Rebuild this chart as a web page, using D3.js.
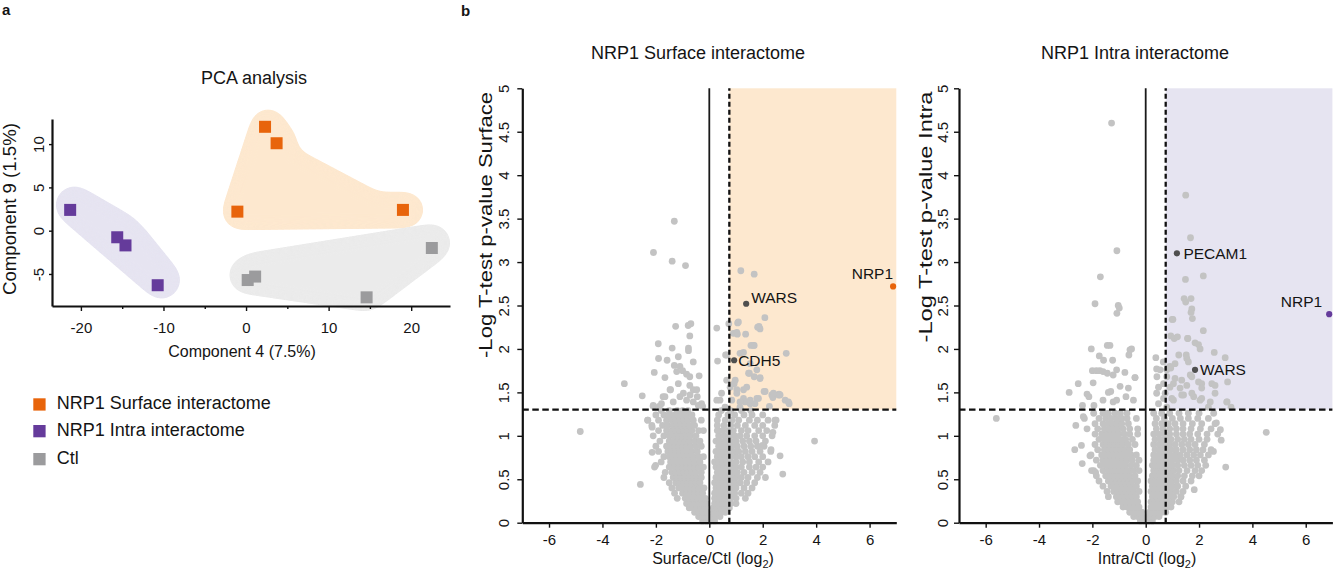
<!DOCTYPE html>
<html><head><meta charset="utf-8">
<script src="https://cdn.jsdelivr.net/npm/d3@7"></script>
<style>
body{margin:0;background:#fff}
svg{display:block}
text{font-family:"Liberation Sans",Arial,sans-serif;fill:#141414}
</style>
</head><body>
<svg id="c" width="1334" height="570"></svg>
<script>
// ---------------- DATA ----------------
const pcaGroups = ["NRP1 Surface interactome", "NRP1 Intra interactome", "Ctl"];
const pcaSurface = [[2.3,12.0],[3.7,10.1],[-1.05,2.2],[19.0,2.4]];
const pcaIntra   = [[-21.3,2.4],[-15.6,-0.76],[-14.6,-1.7],[-10.7,-6.3]];
const pcaCtl     = [[22.5,-2.0],[0.2,-5.7],[1.1,-5.3],[14.6,-7.7]];
const pcaBlobParts = [[[0,1,2],[2,3],[1,2,3]], [[0,1,2,3]], [[0,1,2,3]]];
const pcaXTicks = [-20,-10,0,10,20];
const pcaXMinor = [-15,-5,5,15];
const pcaYTicks = [-5,0,5,10];

const volXTicks = [-6,-4,-2,0,2,4,6];
const volYTicks = [0,0.5,1,1.5,2,2.5,3,3.5,4,4.5,5];
const fcCut = 0.75;
const pCut = 1.301;

// dense core, rows: [y, x1, x2, ...]
const surfaceCore = [
 [0.02,-0.25,-0.1,0.05,0.2],
 [0.07,-0.4,-0.25,-0.1,0.1,0.25,0.4],
 [0.12,-0.55,-0.4,-0.25,-0.1,0.15,0.3,0.45,0.6],
 [0.17,-0.75,-0.6,-0.45,-0.3,-0.15,0.15,0.3,0.45,0.6,0.75],
 [0.22,-0.85,-0.7,-0.55,-0.4,-0.25,-0.1,0.2,0.35,0.5,0.65,0.8,1.0],
 [0.28,-1.2,-0.9,-0.75,-0.6,-0.45,-0.3,-0.15,0.2,0.35,0.5,0.65,0.8,1.0,1.35],
 [0.34,-1.3,-1.0,-0.85,-0.7,-0.55,-0.4,-0.25,0.2,0.35,0.5,0.65,0.8,0.95,1.2,1.45],
 [0.40,-1.4,-1.15,-1.0,-0.85,-0.7,-0.55,-0.4,-0.2,0.25,0.4,0.55,0.7,0.85,1.0,1.3,1.6],
 [0.46,-1.5,-1.25,-1.1,-0.95,-0.8,-0.65,-0.5,-0.35,0.2,0.35,0.5,0.65,0.8,0.95,1.15,1.4,1.7],
 [0.52,-1.7,-1.35,-1.2,-1.05,-0.9,-0.75,-0.6,-0.45,-0.3,0.25,0.4,0.55,0.7,0.85,1.0,1.2,1.45,1.8,2.1],
 [0.58,-1.65,-1.4,-1.25,-1.1,-0.95,-0.8,-0.65,-0.5,-0.3,0.3,0.45,0.6,0.75,0.9,1.05,1.3,1.6,1.9],
 [0.64,-2.05,-1.5,-1.3,-1.15,-1.0,-0.85,-0.7,-0.55,-0.4,-0.22,0.25,0.4,0.55,0.7,0.85,1.0,1.2,1.5,1.75,2.0],
 [0.70,-1.8,-1.45,-1.3,-1.15,-1.0,-0.85,-0.7,-0.55,-0.35,0.2,0.35,0.5,0.65,0.8,1.0,1.25,1.5,1.85,2.2],
 [0.76,-1.7,-1.5,-1.35,-1.2,-1.05,-0.9,-0.75,-0.6,-0.4,-0.22,0.3,0.45,0.6,0.8,1.0,1.2,1.45,1.7,2.0],
 [0.82,-1.9,-1.55,-1.4,-1.25,-1.1,-0.95,-0.8,-0.65,-0.45,0.25,0.4,0.55,0.7,0.9,1.1,1.35,1.6,1.9,2.3],
 [0.88,-2.0,-1.6,-1.45,-1.3,-1.15,-1.0,-0.85,-0.7,-0.5,-0.3,0.35,0.5,0.65,0.85,1.05,1.3,1.55,1.8,2.05],
 [0.94,-1.85,-1.5,-1.35,-1.2,-1.05,-0.9,-0.75,-0.55,-0.35,0.25,0.4,0.6,0.8,1.0,1.25,1.5,1.75,2.1],
 [1.00,-2.1,-1.7,-1.5,-1.3,-1.15,-1.0,-0.85,-0.7,-0.5,0.35,0.55,0.75,0.95,1.15,1.4,1.7,2.0,2.35],
 [1.06,-1.9,-1.6,-1.4,-1.25,-1.1,-0.95,-0.8,-0.65,-0.4,-0.22,0.3,0.5,0.7,0.9,1.2,1.45,1.85,2.15],
 [1.12,-2.15,-1.75,-1.55,-1.35,-1.2,-1.05,-0.9,-0.75,-0.55,0.3,0.55,0.8,1.05,1.35,1.7,2.0,2.45],
 [1.18,-2.3,-1.9,-1.6,-1.4,-1.25,-1.1,-0.95,-0.8,-0.6,-0.3,0.3,0.6,0.85,1.1,1.5,1.8,2.2,2.5],
 [1.24,-2.0,-1.7,-1.5,-1.3,-1.15,-1.0,-0.85,-0.65,0.35,0.7,0.95,1.3,1.6,2.0],
 [1.29,-1.8,-1.5,-1.2,-1.0,-0.8,0.45,0.8,1.2,1.55]
];
const surfaceSparse = [
 [-1.31,3.47],[-2.09,3.11],[-1.39,3.01],[-0.89,2.96],[1.18,2.90],[1.68,2.86],
 [2.08,2.36],[-1.26,2.26],[-0.79,2.27],[-0.69,2.29],[-0.73,2.15],[0.28,2.24],[0.73,2.29],[1.06,2.30],[1.05,2.17],[1.81,2.25],[1.90,2.23],
 [-1.91,2.06],[-1.39,2.01],[-0.78,2.01],[-0.78,1.98],[-1.16,1.91],[-1.90,1.89],[-1.58,1.87],[-0.60,1.85],[-1.31,1.81],[-1.10,1.80],[-1.22,1.74],[-1.00,1.75],[-0.85,1.71],[-0.73,1.68],[-2.06,1.73],[-1.66,1.67],[-1.16,1.60],[-0.73,1.58],[-0.60,1.53],[-0.45,1.45],[-0.38,1.69],[-3.18,1.60],[-2.51,1.46],[-1.45,1.53],[-1.73,1.45],[-2.10,1.34],[-1.88,1.34],[-1.10,1.45],[-1.35,1.39],[-0.85,1.41],[-0.60,1.39],[-0.29,1.37],[0.28,1.41],[0.46,1.49],[0.65,1.64],[0.59,1.33],
 [-2.10,1.35],[-1.79,1.37],[-1.66,1.45],[-1.47,1.53],[-0.97,1.49],[-0.72,1.47],[-0.47,1.53],[-0.25,1.34],[-0.41,1.35],
 [0.31,1.86],[0.61,1.93],[1.28,1.96],[1.56,2.04],[1.68,2.04],[1.36,2.17],[0.90,2.18],[2.88,1.95],[1.50,1.72],[1.68,1.68],[1.90,1.67],[2.05,1.51],[2.38,1.44],[2.61,1.48],[2.84,1.41],[2.99,1.37],[2.25,1.34],[1.03,1.53],[0.93,1.60],[1.28,1.43],[1.53,1.41],[1.78,1.43],[0.84,1.41],[1.15,1.33],[1.40,1.56],[1.09,2.31],[1.86,2.26],[1.03,2.19],[1.65,2.04],[1.15,1.95],[0.65,1.93],[1.53,1.83],[1.78,1.76],[1.47,1.72],[1.90,1.66],[0.97,1.64],[2.34,1.47],[2.59,1.47],[1.28,1.53],
 [0.40,1.41],[0.78,1.56],[1.03,1.49],[1.34,1.39],[1.53,1.37],[1.84,1.43],[2.09,1.51],[2.40,1.49],[2.65,1.47],[2.96,1.39],[1.15,1.39],[1.71,1.37],
 [-4.83,1.05],[3.94,0.94],[-2.58,0.44],[-2.31,1.18],[-2.14,1.10],[-2.14,0.81],[-2.01,0.66],[2.46,1.18],[2.38,1.04],[2.31,0.84],[2.65,0.77],[2.75,0.56],[1.99,0.89]
];
const surfaceGenes = [
 {name:"NRP1", x:6.88, y:2.72, kind:"bait"},
 {name:"WARS", x:1.38, y:2.52, kind:"hit"},
 {name:"CDH5", x:0.93, y:1.87, kind:"hit"}
];

const intraCore = [
 [0.02,-0.2,-0.05,0.1,0.25],
 [0.07,-0.45,-0.3,-0.15,0.05,0.2,0.35,0.5],
 [0.12,-0.6,-0.45,-0.3,-0.15,0.15,0.3,0.45,0.6,0.75],
 [0.18,-0.85,-0.7,-0.55,-0.4,-0.25,0.2,0.35,0.5,0.65,0.8,0.95],
 [0.24,-1.05,-0.9,-0.75,-0.6,-0.45,-0.3,0.2,0.35,0.5,0.65,0.8,1.0,1.25],
 [0.30,-1.4,-1.1,-0.95,-0.8,-0.65,-0.5,-0.35,0.25,0.4,0.55,0.7,0.85,1.05,1.32],
 [0.36,-1.45,-1.2,-1.05,-0.9,-0.75,-0.6,-0.45,-0.25,0.2,0.35,0.5,0.65,0.8,0.95,1.15,1.4],
 [0.42,-1.6,-1.3,-1.15,-1.0,-0.85,-0.7,-0.55,-0.35,0.25,0.4,0.55,0.7,0.85,1.0,1.2,1.5],
 [0.48,-1.75,-1.4,-1.25,-1.1,-0.95,-0.8,-0.65,-0.5,-0.3,0.2,0.35,0.5,0.65,0.8,0.95,1.15,1.4,1.7],
 [0.54,-1.85,-1.5,-1.35,-1.2,-1.05,-0.9,-0.75,-0.6,-0.4,0.25,0.4,0.55,0.7,0.85,1.0,1.2,1.45,1.75,2.0],
 [0.60,-1.95,-1.6,-1.4,-1.25,-1.1,-0.95,-0.8,-0.65,-0.45,-0.25,0.3,0.45,0.6,0.75,0.9,1.05,1.25,1.55,1.85,2.1],
 [0.66,-1.7,-1.5,-1.35,-1.2,-1.05,-0.9,-0.75,-0.55,-0.35,0.25,0.4,0.55,0.7,0.85,1.0,1.2,1.45,1.7,1.95,2.25],
 [0.72,-1.85,-1.6,-1.45,-1.3,-1.15,-1.0,-0.85,-0.7,-0.5,-0.25,0.3,0.45,0.6,0.8,1.0,1.2,1.4,1.65,1.9,2.2],
 [0.78,-2.05,-1.65,-1.5,-1.35,-1.2,-1.05,-0.9,-0.75,-0.55,-0.35,0.3,0.5,0.7,0.9,1.1,1.3,1.55,1.8,2.05,2.35],
 [0.84,-1.8,-1.55,-1.4,-1.25,-1.1,-0.95,-0.8,-0.6,0.35,0.55,0.75,0.95,1.15,1.4,1.65,1.9,2.15,2.45],
 [0.90,-1.9,-1.6,-1.45,-1.3,-1.15,-1.0,-0.85,-0.65,-0.4,0.3,0.5,0.7,0.9,1.1,1.35,1.6,1.85,2.2],
 [0.96,-1.75,-1.55,-1.4,-1.25,-1.1,-0.95,-0.75,-0.5,0.35,0.55,0.75,0.95,1.2,1.45,1.7,2.0,2.3],
 [1.02,-1.9,-1.65,-1.45,-1.3,-1.15,-1.0,-0.8,-0.6,-0.3,0.3,0.5,0.7,0.9,1.15,1.4,1.65,1.95,2.3,2.7],
 [1.08,-2.2,-1.8,-1.55,-1.35,-1.2,-1.05,-0.85,-0.6,-0.3,0.4,0.65,0.9,1.15,1.4,1.7,2.05,2.45],
 [1.14,-1.9,-1.6,-1.4,-1.25,-1.1,-0.9,-0.65,0.35,0.6,0.85,1.1,1.4,1.75,2.1,2.6],
 [1.20,-2.3,-1.75,-1.5,-1.3,-1.1,-0.9,-0.7,-0.35,0.4,0.7,1.0,1.3,1.6,1.95,2.35],
 [1.26,-1.95,-1.6,-1.4,-1.15,-0.95,-0.7,0.3,0.6,0.9,1.25,1.6,2.0,2.55]
];
const intraSparse = [
 [-1.28,4.60],[1.50,3.77],[1.68,3.28],[-1.08,3.13],[-1.70,2.83],[1.49,2.80],[2.16,2.84],[-1.90,2.52],[-1.03,2.50],[-0.99,2.47],[-1.08,2.41],[1.44,2.58],[1.50,2.54],[1.70,2.58],[1.73,2.46],[1.70,2.42],[1.75,2.35],[1.02,2.34],[2.16,2.21],[0.94,2.15],[1.07,2.12],[1.58,2.12],
 [-2.04,2.00],[-1.44,2.04],[-1.34,2.04],[-0.59,1.99],[-1.74,1.92],[-1.58,1.87],[-1.24,1.87],[-0.63,1.93],[-2.00,1.75],[-1.85,1.75],[-1.72,1.75],[-1.60,1.74],[-1.44,1.72],[-1.22,1.70],[-1.09,1.76],[-0.78,1.73],[-0.40,1.67],[-1.97,1.61],[-2.87,1.50],[-2.53,1.60],[-2.20,1.48],[-2.13,1.45],[-1.40,1.50],[-1.31,1.51],[-0.96,1.57],[-0.65,1.55],[-1.60,1.41],[-1.22,1.39],[-1.09,1.41],[-0.46,1.41],[-0.74,1.45],[-2.37,1.35],[-1.94,1.35],[-0.53,2.00],[-0.40,1.67],
 [0.38,1.90],[0.41,1.77],[0.79,1.76],[0.94,1.78],[1.24,1.93],[1.54,1.89],[1.52,1.93],[2.57,1.96],[2.98,1.90],[3.07,1.62],[2.48,1.60],[2.10,1.60],[2.10,1.55],[2.60,1.49],[3.05,1.39],[3.20,1.33],[1.19,2.14],[0.99,2.34],[1.57,2.12],[1.85,2.07],[2.04,2.00],
 [0.42,1.68],[0.67,1.60],[0.91,1.56],[1.10,1.66],[1.35,1.64],[1.54,1.58],[1.73,1.68],[1.42,1.47],[1.80,1.45],[2.10,1.43],[2.35,1.33],[1.04,1.41],[0.67,1.43],[0.79,1.33],[0.41,1.49],[0.48,1.37],
 [1.98,2.05],[1.60,1.85],[0.66,1.85],[0.91,1.80],[1.10,1.83],[1.67,1.70],[1.98,1.62],[2.60,1.58],[0.54,1.76],[0.79,1.68],[1.04,1.60],[1.29,1.55],[0.48,1.56],[0.73,1.49],[0.98,1.43],[1.35,1.47],[1.73,1.49],[2.04,1.41],[2.42,1.39],[3.04,1.39],
 [4.52,1.04],[-5.60,1.20],[-2.66,0.84],[-2.38,0.68],[-2.41,0.89],[-2.09,0.77],[-2.62,1.12],[-2.34,1.22],[-2.03,0.60],[-1.88,0.58],[2.83,0.95],[2.80,1.07],[2.65,1.15],[2.54,0.82],[3.00,0.64],[1.82,0.38],[1.32,0.30]
];
const intraGenes = [
 {name:"NRP1", x:6.88, y:2.40, kind:"bait"},
 {name:"PECAM1", x:1.17, y:3.10, kind:"hit"},
 {name:"WARS", x:1.85, y:1.76, kind:"hit"}
];

// ---------------- DRAW ----------------
const svg = d3.select("#c");
const FONT = '"Liberation Sans", Arial, sans-serif';
const defs = svg.append("defs");
const f = defs.append("filter").attr("id","goo").attr("x","-40%").attr("y","-40%")
  .attr("width","180%").attr("height","180%").attr("color-interpolation-filters","sRGB");
f.append("feGaussianBlur").attr("in","SourceGraphic").attr("stdDeviation",7).attr("result","b");
f.append("feColorMatrix").attr("in","b").attr("mode","matrix")
  .attr("values","1 0 0 0 0  0 1 0 0 0  0 0 1 0 0  0 0 0 20 -9");

// panel letters
svg.append("text").attr("x",2).attr("y",15).attr("font-weight","bold").attr("font-size",15).text("a");
svg.append("text").attr("x",461).attr("y",16).attr("font-weight","bold").attr("font-size",15).text("b");

// ----- PCA -----
const pcaSets = [pcaSurface, pcaIntra, pcaCtl];
const pcaColors = ["#e8640b","#653b9b","#9b9b9d"];
const pcaFills = ["#fde8cf","#e6e4f1","#ebebeb"];
const blobStyle = [{pads:[18,18,3],dx:3,dy:0},{pads:[19],dx:4,dy:-5},{pads:[19],dx:0,dy:-5}];
const px = d3.scaleLinear().domain([-23.5,24.7]).range([52,450]);
const py = d3.scaleLinear().domain([-8.7,12.9]).range([306,119]);
const pca = svg.append("g");

pcaSets.forEach((set,gi)=>{
  const st = blobStyle[gi];
  const bg = pca.append("g").attr("filter","url(#goo)");
  pcaBlobParts[gi].forEach((idx,pi)=>{
    const P = idx.map(i=>[px(set[i][0])+st.dx, py(set[i][1])+st.dy]);
    const poly = P.length>=3 ? d3.polygonHull(P) : P;
    bg.append("path").attr("d", d3.line()(poly) + (P.length>=3?"Z":""))
      .attr("fill",pcaFills[gi]).attr("stroke",pcaFills[gi]).attr("stroke-width",2*st.pads[pi])
      .attr("stroke-linejoin","round").attr("stroke-linecap","round");
  });
});
pcaSets.forEach((set,gi)=>{
  pca.append("g").selectAll("rect").data(set).join("rect")
    .attr("x",d=>px(d[0])-6).attr("y",d=>py(d[1])-6).attr("width",12).attr("height",12)
    .attr("fill",pcaColors[gi]);
});
// axes
const pxa = pca.append("g").attr("transform",`translate(0,306)`)
  .call(d3.axisBottom(px).tickValues(pcaXTicks).tickSize(5).tickSizeOuter(0).tickFormat(d=>String(d)));
pxa.attr("font-family",FONT).attr("font-size",15);
pxa.select(".domain").attr("stroke","#111").attr("stroke-width",2.2);
pxa.selectAll(".tick line").attr("stroke","#111").attr("stroke-width",1.4);
pxa.selectAll(".tick text").attr("y",27).attr("dy",null);
const pxm = pca.append("g").attr("transform",`translate(0,306)`)
  .call(d3.axisBottom(px).tickValues(pcaXMinor).tickSize(3).tickFormat(""));
pxm.select(".domain").remove();
pxm.selectAll(".tick line").attr("stroke","#111").attr("stroke-width",1.4);

const pya = pca.append("g").attr("transform",`translate(52,0)`)
  .call(d3.axisLeft(py).tickValues(pcaYTicks).tickSize(3).tickSizeOuter(0).tickFormat(d=>String(d)));
pya.attr("font-family",FONT).attr("font-size",15);
pya.select(".domain").attr("stroke","#111").attr("stroke-width",2.2);
pya.selectAll(".tick line").attr("stroke","#111").attr("stroke-width",1.4);
pya.selectAll(".tick text").attr("transform","rotate(-90)").attr("x",0).attr("y",-8.5)
  .attr("dy",null).attr("text-anchor","middle");

pca.append("text").attr("x",254).attr("y",84).attr("text-anchor","middle").attr("font-size",18).text("PCA analysis");
pca.append("text").attr("x",242).attr("y",357).attr("text-anchor","middle").attr("font-size",16).text("Component 4 (7.5%)");
pca.append("text").attr("transform","translate(15.5,209) rotate(-90)").attr("text-anchor","middle")
  .attr("font-size",18).attr("textLength",172).attr("lengthAdjust","spacingAndGlyphs").text("Component 9 (1.5%)");

// legend
const legRows = [409.3, 436, 464];
pcaGroups.forEach((name,i)=>{
  svg.append("rect").attr("x",33.3).attr("y",legRows[i]-11).attr("width",12.3).attr("height",12.3).attr("fill",pcaColors[i]);
  svg.append("text").attr("x",56.7).attr("y",legRows[i]).attr("font-size",18).text(name);
});

// ----- Volcano -----
function volcano(cfg){
  const x = d3.scaleLinear().domain([-7,7]).range(cfg.xr);
  const y = d3.scaleLinear().domain([0,5]).range([522.7,88.3]);
  const g = svg.append("g");
  g.append("rect").attr("x",x(fcCut)).attr("y",y(5)).attr("width",x(7)-x(fcCut))
    .attr("height",y(pCut)-y(5)).attr("fill",cfg.shade);
  const pts = [];
  cfg.core.forEach(r=>{ for(let i=1;i<r.length;i++) pts.push([r[i],r[0]]); });
  cfg.sparse.forEach(p=>pts.push(p));
  g.append("g").selectAll("circle").data(pts).join("circle")
    .attr("cx",d=>x(d[0])).attr("cy",d=>y(d[1])).attr("r",3.4).attr("fill","#c3c3c3");
  // reference lines
  g.append("line").attr("x1",x(0)).attr("x2",x(0)).attr("y1",y(0)).attr("y2",y(5))
    .attr("stroke","#1a1a1a").attr("stroke-width",1.8);
  g.append("line").attr("x1",x(fcCut)).attr("x2",x(fcCut)).attr("y1",y(0)).attr("y2",y(5))
    .attr("stroke","#111").attr("stroke-width",2.3).attr("stroke-dasharray","5,3");
  g.append("line").attr("x1",x(-7)).attr("x2",x(7)).attr("y1",y(pCut)).attr("y2",y(pCut))
    .attr("stroke","#111").attr("stroke-width",2.3).attr("stroke-dasharray","6.5,3.5");
  // genes
  cfg.genes.forEach(gn=>{
    const cx = x(gn.x), cy = y(gn.y);
    g.append("circle").attr("cx",cx).attr("cy",cy).attr("r",3.1)
      .attr("fill", gn.kind==="bait" ? cfg.bait : "#4f4f4f");
    const L = cfg.labels[gn.name];
    g.append("text").attr("x",cx+L.dx).attr("y",cy+L.dy).attr("text-anchor",L.anchor)
      .attr("font-size",15.5).text(gn.name);
  });
  // axes
  const xa = g.append("g").attr("transform",`translate(0,${y(0)})`)
    .call(d3.axisBottom(x).tickValues(volXTicks).tickSize(5).tickSizeOuter(0).tickFormat(d=>String(d)));
  xa.attr("font-family",FONT).attr("font-size",15);
  xa.select(".domain").attr("stroke","#111").attr("stroke-width",2.2);
  xa.selectAll(".tick line").attr("stroke","#111").attr("stroke-width",1.4);
  xa.selectAll(".tick text").attr("y",22).attr("dy",null);
  const ya = g.append("g").attr("transform",`translate(${x(-7)},0)`)
    .call(d3.axisLeft(y).tickValues(volYTicks).tickSize(5).tickSizeOuter(0).tickFormat(d=>String(d)));
  ya.attr("font-family",FONT).attr("font-size",15);
  ya.select(".domain").attr("stroke","#111").attr("stroke-width",2.2);
  ya.selectAll(".tick line").attr("stroke","#111").attr("stroke-width",1.4);
  ya.selectAll(".tick text").attr("transform","rotate(-90)").attr("x",0).attr("y",cfg.tickOff)
    .attr("dy",null).attr("text-anchor","middle");
  // titles
  g.append("text").attr("x",cfg.titleX).attr("y",59).attr("text-anchor","middle").attr("font-size",18).text(cfg.title);
  const xl = g.append("text").attr("x",cfg.xlabX).attr("y",564).attr("text-anchor","middle").attr("font-size",16);
  xl.append("tspan").text(cfg.xlab + " (log");
  xl.append("tspan").attr("dy",4).attr("font-size",11).text("2");
  xl.append("tspan").attr("dy",-4).text(")");
  g.append("text").attr("transform",`translate(${cfg.ylabX},${cfg.ylabY}) rotate(-90)`)
    .attr("text-anchor","middle").attr("font-size",19)
    .attr("textLength",cfg.ylabLen).attr("lengthAdjust","spacingAndGlyphs").text(cfg.ylab);
}

volcano({
  xr:[522.3,896.3], shade:"#fde8cf", bait:"#e8640b",
  core:surfaceCore, sparse:surfaceSparse, genes:surfaceGenes,
  labels:{NRP1:{dx:0,dy:-7.5,anchor:"end"}, WARS:{dx:5,dy:-1,anchor:"start"}, CDH5:{dx:4,dy:5.7,anchor:"start"}},
  tickOff:-13.5, title:"NRP1 Surface interactome", titleX:698,
  xlab:"Surface/Ctl", xlabX:713, ylab:"-Log T-test p-value Surface", ylabX:492, ylabY:225, ylabLen:266
});
volcano({
  xr:[959,1332.4], shade:"#e6e4f1", bait:"#653b9b",
  core:intraCore, sparse:intraSparse, genes:intraGenes,
  labels:{NRP1:{dx:-7,dy:-7.6,anchor:"end"}, PECAM1:{dx:6.5,dy:6,anchor:"start"}, WARS:{dx:5,dy:5,anchor:"start"}},
  tickOff:-11.5, title:"NRP1 Intra interactome", titleX:1135,
  xlab:"Intra/Ctl", xlabX:1147, ylab:"-Log T-test p-value Intra", ylabX:932, ylabY:217, ylabLen:251
});
</script>
</body></html>
